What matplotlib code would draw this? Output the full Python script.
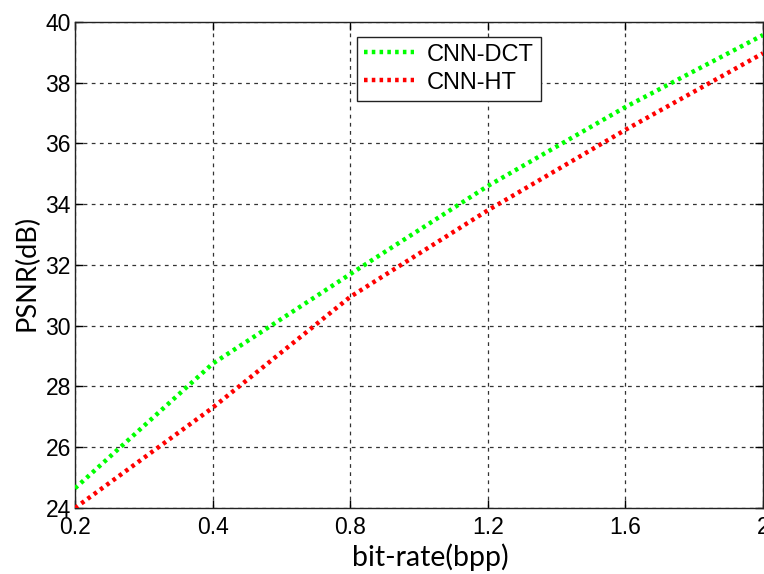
import matplotlib
matplotlib.use("Agg")
import matplotlib.pyplot as plt

# datos (los ticks del eje x estan igualmente espaciados)
bitrate_labels = ["0.2", "0.4", "0.8", "1.2", "1.6", "2"]
x_pos = [0, 1, 2, 3, 4, 5]
psnr_dct = [24.65, 28.75, 31.7, 34.6, 37.2, 39.57]
psnr_ht = [24.0, 27.3, 30.95, 33.8, 36.45, 38.97]

plt.rcParams['font.family'] = ['Liberation Sans', 'DejaVu Sans']

fig = plt.figure(figsize=(7.64, 5.74), dpi=100)
ax = fig.add_axes([0.0982, 0.115, 0.9005, 0.8467])

ax.plot(x_pos, psnr_dct, color=(0, 1, 0), linewidth=3.2, linestyle=(0, (0.8, 0.95)),
        dash_capstyle='butt', label='CNN-DCT', zorder=3)
ax.plot(x_pos, psnr_ht, color=(1, 0, 0), linewidth=3.2, linestyle=(0, (0.8, 0.95)),
        dash_capstyle='butt', label='CNN-HT', zorder=3)

ax.set_xlim(0, 5)
ax.set_ylim(24, 40)
ax.set_xticks(x_pos)
ax.set_xticklabels(bitrate_labels)
ax.set_yticks(range(24, 41, 2))

ax.grid(True, color='#333333', linestyle=(0, (3, 3.5)), linewidth=0.9)
ax.tick_params(direction='in', length=6, width=1, labelsize=16.5, top=True, right=True, pad=3)
ax.tick_params(axis='x', pad=6)
for s in ax.spines.values():
    s.set_linewidth(1.0)
    s.set_color('#222222')

# las etiquetas de los ejes usan otra letra (parecida a Calibri)
ax.set_xlabel('bit-rate(bpp)', fontsize=20.5, family='Lato')
ax.set_ylabel('PSNR(dB)', fontsize=19.5, family='Lato')
ax.xaxis.set_label_coords(0.516, -0.072)
ax.yaxis.set_label_coords(-0.052, 0.484)

leg = ax.legend(loc='upper left', bbox_to_anchor=(0.410, 0.970), fontsize=17,
                fancybox=False, edgecolor='#222222', framealpha=1, handlelength=2.1,
                borderpad=0.3, labelspacing=0.25, handletextpad=0.55, borderaxespad=0)
leg.get_frame().set_linewidth(1.0)

fig.savefig('out.png', dpi=100)
